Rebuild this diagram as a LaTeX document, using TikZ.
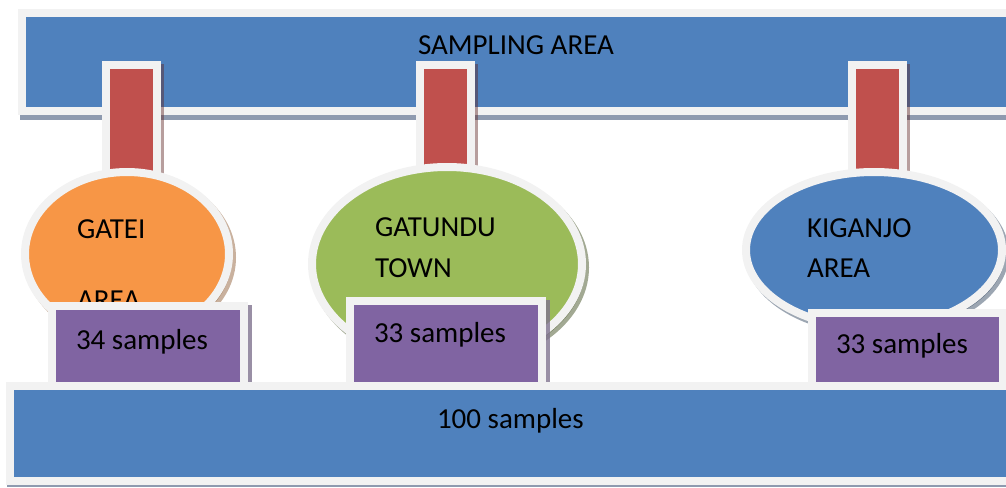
\documentclass[tikz,border=0pt]{standalone}
\usepackage{fontspec}
\setmainfont{Carlito}
\usetikzlibrary{shapes.geometric}
\definecolor{cblue}{HTML}{4F81BD}
\definecolor{cred}{HTML}{C0504D}
\definecolor{corange}{HTML}{F79646}
\definecolor{cgreen}{HTML}{9BBB59}
\definecolor{cpurple}{HTML}{8064A2}
\definecolor{cborder}{HTML}{F2F2F2}
\definecolor{barshadow}{HTML}{8E9AAF}
\tikzset{
  shape3d/.style={draw=cborder, line width=8pt, inner sep=0pt, outer sep=0pt},
  shadowed/.style 2 args={preaction={draw=#1, fill=#1, line width=8pt, opacity=#2,
      transform canvas={shift={(3pt,-3.5pt)}}}},
  bar/.style={shape3d, rectangle, fill=cblue},
  connector/.style={shape3d, rectangle, fill=cred, minimum width=51pt, minimum height=120pt,
      shadowed={cred!50!black}{0.45}},
  area/.style={shape3d, ellipse},
  countbox/.style={shape3d, rectangle, fill=cpurple, minimum width=192pt,
      preaction={draw=cpurple!45!gray, fill=cpurple!45!gray, line width=8pt, opacity=0.8,
      transform canvas={shift={(4pt,-3pt)}}}},
  lbl/.style={anchor=base west, inner sep=0pt, outer sep=0pt, font=\fontsize{29}{35}\selectfont, text=black},
}
\begin{document}
\begin{tikzpicture}[x=1pt, y=-1pt]
\useasboundingbox (0,0) rectangle (1006,487);
% top bar
\node[bar, minimum width=990pt, minimum height=98pt,
  preaction={draw=barshadow, fill=barshadow, line width=8pt,
  transform canvas={shift={(2pt,-5pt)}}}] (top) at (517,62) {};
\node[lbl] (toptxt) at (418,55) {SAMPLING AREA};
% connectors
\node[connector] (c1) at (131,125) {};
\node[connector] (c2) at (445,125) {};
\node[connector] (c3) at (877.5,125) {};
% areas
\node[area, fill=corange, minimum width=204pt, minimum height=164pt,
  shadowed={corange!55!black}{0.45}] (e1) at (127,254) {};
\node[area, fill=cgreen, minimum width=270pt, minimum height=194pt,
  shadowed={cgreen!45!black}{0.5}] (e2) at (447,264) {};
\node[area, fill=cblue, minimum width=256pt, minimum height=156pt,
  shadowed={cblue!45!black}{0.45}] (e3) at (874,250) {};
\node[lbl] (t1a) at (77,238) {GATEI};
\node[lbl] (t1b) at (77,309) {AREA};
\node[lbl] (t2a) at (375,236) {GATUNDU};
\node[lbl] (t2b) at (375,277) {TOWN};
\node[lbl] (t3a) at (807,237) {KIGANJO};
\node[lbl] (t3b) at (807,277) {AREA};
% sample boxes
\node[countbox, minimum height=89pt] (s1) at (148.25,350.5) {};
\node[countbox, minimum height=94pt] (s2) at (446,348) {};
\node[countbox, minimum width=191pt, minimum height=82.5pt] (s3) at (907.5,353.75) {};
\node[lbl] (s1t) at (76,349) {34 samples};
\node[lbl] (s2t) at (374,342) {33 samples};
\node[lbl] (s3t) at (836,353) {33 samples};
% bottom bar
\node[bar, minimum width=1000pt, minimum height=95pt,
  preaction={draw=barshadow, fill=barshadow, line width=8pt,
  transform canvas={shift={(1pt,-2pt)}}}] (bottom) at (510,433.5) {};
\node[lbl] (bottomtxt) at (437,428) {100 samples};
\end{tikzpicture}
\end{document}
